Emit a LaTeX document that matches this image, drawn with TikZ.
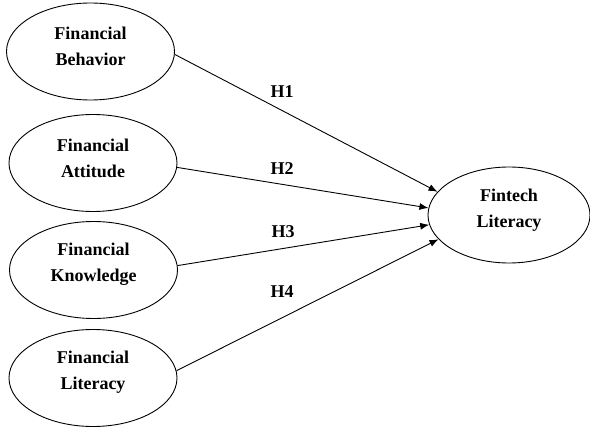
\documentclass[tikz,border=0pt]{standalone}
\usepackage{fontspec}
\setmainfont{Liberation Serif}
\usetikzlibrary{shapes.geometric,arrows.meta}
\begin{document}
\begin{tikzpicture}[x=1pt,y=-1pt,
  oval/.style={draw,ellipse,line width=0.9pt,minimum width=168pt,minimum height=97pt,inner sep=0pt},
  txt/.style={align=center,font=\fontsize{18}{26}\selectfont\bfseries,inner sep=0pt},
  hyp/.style={font=\fontsize{18}{22}\selectfont\bfseries,inner sep=0pt},
  link/.style={line width=0.9pt,-{Latex[length=9pt,width=7pt]}}]
\useasboundingbox (0,0) rectangle (590,428);
\node[oval] (b) at (90.5,51.5) {};
\node[oval] (a) at (93,163) {};
\node[oval] (k) at (93.5,270) {};
\node[oval] (l) at (93,378) {};
\node[oval,minimum width=162pt,minimum height=96pt] (f) at (509,215) {};
\node[txt] (bt) at (90.5,46) {Financial\\Behavior};
\node[txt] (at) at (93,158) {Financial\\Attitude};
\node[txt] (kt) at (93.5,264) {Financial\\Knowledge};
\node[txt] (lt) at (93,372) {Financial\\Literacy};
\node[txt] (ft) at (509,210) {Fintech\\Literacy};
\draw[link] (b.-2) -- (f.162);
\draw[link] (a.-3) -- (f.175);
\draw[link] (k.3) -- (f.187);
\draw[link] (l.5) -- (f.199);
\node[hyp] (h1) at (282,92) {H1};
\node[hyp] (h2) at (282,169) {H2};
\node[hyp] (h3) at (283,232) {H3};
\node[hyp] (h4) at (282,292) {H4};
\end{tikzpicture}
\end{document}
